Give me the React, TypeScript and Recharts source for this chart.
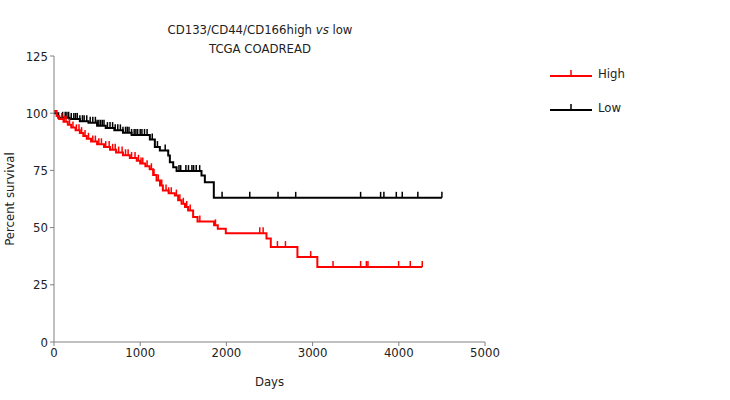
import {
  ComposedChart,
  Line,
  Scatter,
  XAxis,
  YAxis,
} from "recharts";

const highDays = [0, 30, 60, 110, 160, 200, 250, 300, 340, 380, 430, 500, 580, 650, 720, 800, 880, 960, 1000, 1060, 1110, 1150, 1190, 1230, 1263, 1330, 1402, 1440, 1480, 1520, 1556, 1614, 1665, 1857, 1900, 1993, 2465, 2515, 2824, 3055, 4272];
const highSurv = [101, 98.8, 97.5, 96.3, 95, 93.8, 92.5, 91.3, 90, 88.8, 87.6, 86.4, 85.2, 84, 82.8, 81.6, 80.4, 79.2, 78, 76.8, 75.5, 73, 70.6, 68.4, 66.2, 65, 64, 62, 60.4, 59, 57.5, 54.6, 52.7, 51, 49.5, 47.5, 45.2, 41.5, 37.1, 32.8, 32.8];
const highCensored = [90, 120, 140, 180, 220, 260, 290, 320, 360, 400, 450, 480, 520, 550, 600, 640, 680, 710, 750, 790, 830, 860, 900, 940, 980, 1010, 1030, 1080, 1130, 1160, 1210, 1250, 1300, 1330, 1360, 1420, 1460, 1500, 1540, 1580, 1692, 1873, 2387, 2426, 2592, 2685, 2978, 3237, 3557, 3624, 3642, 3998, 4133, 4272];

const lowDays = [0, 50, 180, 300, 400, 500, 600, 700, 800, 900, 1112, 1170, 1228, 1325, 1344, 1383, 1422, 1711, 1750, 1854, 4500];
const lowSurv = [100, 98, 97.5, 96.5, 95.8, 94.5, 93.5, 92.5, 91.5, 90.5, 88.5, 85.2, 83.7, 81.5, 78.6, 76.4, 74.7, 72.8, 69.8, 63, 63];
const lowCensored = [100, 130, 150, 170, 200, 230, 250, 270, 300, 330, 350, 380, 420, 450, 480, 500, 520, 540, 560, 580, 620, 650, 680, 710, 740, 770, 800, 830, 850, 870, 900, 930, 950, 970, 1000, 1020, 1050, 1080, 1140, 1200, 1290, 1450, 1470, 1530, 1560, 1600, 1620, 1650, 1690, 1950, 2271, 2599, 2804, 3557, 3789, 3827, 3971, 4040, 4221, 4500];

const xTicks = [0, 1000, 2000, 3000, 4000, 5000];
const yTicks = [0, 25, 50, 75, 100, 125];

const toRows = (days: number[], surv: number[]) =>
  days.map((d, i) => ({ day: d, surv: surv[i] }));

const survAt = (days: number[], surv: number[], d: number) => {
  let v = surv[0];
  for (let i = 0; i < days.length; i++) if (days[i] <= d) v = surv[i];
  return v;
};

const censorRows = (c: number[], days: number[], surv: number[]) =>
  c.map((d) => ({ day: d, surv: survAt(days, surv, d) }));

const highData = toRows(highDays, highSurv);
const lowData = toRows(lowDays, lowSurv);
const highCens = censorRows(highCensored, highDays, highSurv);
const lowCens = censorRows(lowCensored, lowDays, lowSurv);

const font = "'DejaVu Sans Condensed', 'DejaVu Sans', sans-serif";
const txt = { fill: "#222", fontSize: 13, fontFamily: font };

const censorMark = (color: string) => (p: any) => (
  <line x1={p.cx} y1={p.cy} x2={p.cx} y2={p.cy - 6} stroke={color} strokeWidth={1.5} />
);

const series = [
  { name: "High", color: "#ff0000" },
  { name: "Low", color: "#000000" },
];

export default function App() {
  return (
    <div style={{ position: "absolute", left: 0, top: 0, width: 730, height: 400, background: "#fff" }}>
      <div
        style={{
          position: "absolute",
          left: 110,
          width: 300,
          top: 20,
          textAlign: "center",
          fontFamily: font,
          fontSize: 13,
          lineHeight: "19px",
          color: "#222",
        }}
      >
        CD133/CD44/CD166high <i>vs</i> low
        <br />
        TCGA COADREAD
      </div>
      <div style={{ position: "absolute", left: 545, top: 56, fontFamily: font, fontSize: 13, color: "#222" }}>
        {series.map((s) => (
          <div key={s.name} style={{ display: "flex", alignItems: "center", height: 34 }}>
            <svg width={50} height={14}>
              <line x1={5} y1={10} x2={47} y2={10} stroke={s.color} strokeWidth={2} />
              <line x1={26} y1={10} x2={26} y2={4} stroke={s.color} strokeWidth={1.5} />
            </svg>
            <span style={{ marginLeft: 3 }}>{s.name}</span>
          </div>
        ))}
      </div>
      <ComposedChart
        width={730}
        height={400}
        margin={{ top: 56, right: 245, bottom: 28, left: 14 }}
      >
        <XAxis
          type="number"
          dataKey="day"
          domain={[0, 5000]}
          ticks={xTicks}
          allowDataOverflow
          stroke="#808080"
          tickSize={4}
          tick={txt}
          height={30}
          label={{ value: "Days", position: "insideBottom", offset: -14, ...txt }}
        />
        <YAxis
          type="number"
          dataKey="surv"
          domain={[0, 125]}
          ticks={yTicks}
          stroke="#808080"
          tickSize={4}
          width={40}
          tick={txt}
          label={{ value: "Percent survival", angle: -90, position: "insideLeft", offset: -5, ...txt, style: { textAnchor: "middle" } }}
        />
        <Line data={lowData} dataKey="surv" type="stepAfter" stroke="#000000" strokeWidth={2} dot={false} isAnimationActive={false} />
        <Line data={highData} dataKey="surv" type="stepAfter" stroke="#ff0000" strokeWidth={2} dot={false} isAnimationActive={false} />
        <Scatter data={lowCens} dataKey="surv" shape={censorMark("#000000")} isAnimationActive={false} />
        <Scatter data={highCens} dataKey="surv" shape={censorMark("#ff0000")} isAnimationActive={false} />
      </ComposedChart>
    </div>
  );
}
